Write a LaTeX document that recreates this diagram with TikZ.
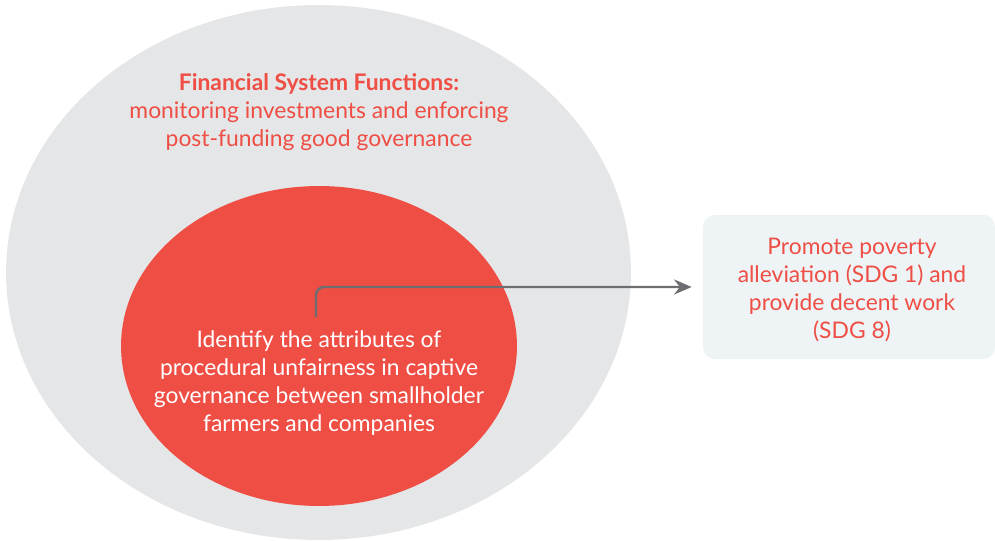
\documentclass[tikz,border=0pt]{standalone}
\usepackage{fontspec}
\setmainfont{Lato}
\usetikzlibrary{shapes,arrows,arrows.meta,positioning}
\definecolor{fsred}{HTML}{EF4E45}
\definecolor{fsgray}{HTML}{E5E6E7}
\definecolor{goalblue}{HTML}{EEF3F6}
\definecolor{arrowgray}{HTML}{6D6E71}

\begin{document}
\begin{tikzpicture}[x=0.02cm,y=-0.02cm,
  txt/.style={align=center,font=\fontsize{13}{15.9}\selectfont}]
\useasboundingbox (0,0) rectangle (995,541);
% Draw the outer ellipse (financial system)
\node[ellipse,fill=fsgray,minimum width=12.5cm,minimum height=10.7cm] (outer) at (318.5,272.5) {};
% Draw the inner ellipse
\node[ellipse,fill=fsred,minimum width=7.92cm,minimum height=6.4cm] (inner) at (319,346) {};
% Draw the texts
\node[txt,text=fsred] (functions) at (319,112) {\textbf{Financial System Functions:}\\monitoring investments and enforcing\\post-funding good governance};
\node[txt,text=white] (attributes) at (319,383) {Identify the attributes of\\procedural unfairness in captive\\governance between smallholder\\farmers and companies};
% Draw the goal box
\node[txt,text=fsred,fill=goalblue,rounded corners=0.24cm,minimum width=5.84cm,minimum height=2.89cm] (goal) at (849,287) {};
\node[txt,text=fsred] (goaltext) at (852,290) {Promote poverty\\alleviation (SDG 1) and\\provide decent work\\(SDG 8)};
% Draw the arrow
\coordinate (start) at (316,317);
\draw[arrowgray,line width=1.4pt,rounded corners=0.16cm,shorten >=0.22cm,-{Stealth[length=10pt,width=8.5pt]}] (start) |- (goal.west);
\end{tikzpicture}
\end{document}
